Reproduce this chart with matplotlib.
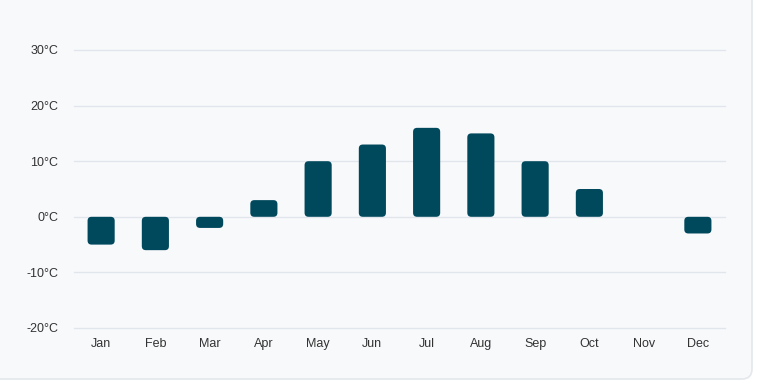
import matplotlib.pyplot as plt
from matplotlib.patches import FancyBboxPatch
from matplotlib.transforms import IdentityTransform

months = ['Jan', 'Feb', 'Mar', 'Apr', 'May', 'Jun', 'Jul', 'Aug', 'Sep', 'Oct', 'Nov', 'Dec']
temps = [-5, -6, -2, 3, 10, 13, 16, 15, 10, 5, 0, -3]
yticks = [-20, -10, 0, 10, 20, 30]

bar_color = '#00485c'
bg = '#f8f9fb'
grid_color = '#e1e6ec'

plt.rcParams['font.family'] = ['Liberation Sans', 'DejaVu Sans']

fig = plt.figure(figsize=(7.57, 3.80), dpi=100)
fig.patch.set_facecolor('white')

# card background with rounded corner on the bottom right
card = FancyBboxPatch((-30, 1), 782, 420, boxstyle='round,pad=0,rounding_size=10',
                      transform=IdentityTransform(), facecolor=bg,
                      edgecolor='#e4e7eb', linewidth=1.2, zorder=-5)
fig.patches.append(card)

ax = fig.add_axes([74 / 757, 1 - 328 / 380, 651 / 757, 278 / 380])
ax.set_facecolor('none')
ax.set_zorder(2)

bars = ax.bar(range(len(months)), temps, width=0.5, color=bar_color)
ax.set_xlim(-0.5, 11.5)
ax.set_ylim(-20, 30)

# replace plain rectangles with rounded ones
x_px = 651 / 12.0
y_px = 278 / 50.0
r = 4 / x_px
for b in bars:
    x, y = b.get_x(), b.get_y()
    w, h = b.get_width(), b.get_height()
    b.set_visible(False)
    if h == 0:
        continue
    if h < 0:
        y, h = y + h, -h
    p = FancyBboxPatch((x, y), w, h, boxstyle='round,pad=0,rounding_size=%f' % r,
                       mutation_aspect=x_px / y_px, facecolor=bar_color,
                       edgecolor='none', zorder=3)
    ax.add_patch(p)

ax.set_xticks(range(len(months)))
ax.set_xticklabels(months)
ax.set_yticks(yticks)
ax.set_yticklabels(['%d°C' % t for t in yticks])
ax.tick_params(axis='both', length=0, labelsize=9, colors='#333333')
ax.tick_params(axis='y', pad=11.5)
ax.tick_params(axis='x', pad=7.5)
ax.grid(axis='y', color=grid_color, linewidth=1)
ax.set_axisbelow(True)
for gl in ax.get_ygridlines():
    gl.set_clip_on(False)
for s in ax.spines.values():
    s.set_visible(False)

plt.savefig('out.png', dpi=100, facecolor=fig.get_facecolor())
